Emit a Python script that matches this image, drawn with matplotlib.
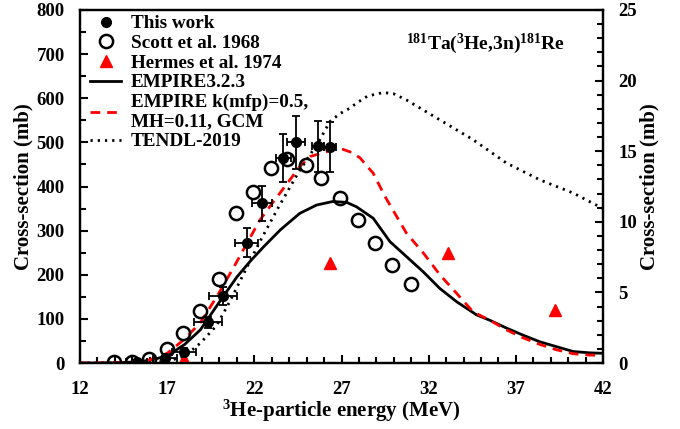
import matplotlib
matplotlib.use("Agg")
import matplotlib.pyplot as plt
from matplotlib.ticker import MultipleLocator
from matplotlib.lines import Line2D

plt.rcParams['font.family'] = ['Liberation Serif', 'DejaVu Serif']
plt.rcParams['font.weight'] = 'bold'
plt.rcParams['mathtext.fontset'] = 'custom'
plt.rcParams['mathtext.rm'] = 'Liberation Serif:bold'
plt.rcParams['mathtext.it'] = 'Liberation Serif:bold'
plt.rcParams['mathtext.bf'] = 'Liberation Serif:bold'
plt.rcParams['mathtext.default'] = 'rm'

# This work
this_E = [15.25, 16.87, 17.95, 19.33, 20.22, 21.56, 22.42, 23.66, 24.38, 25.65, 26.36]
this_y = [3, 12, 26, 92, 152, 273, 362, 464, 500, 491, 489]
this_yerr = [3, 4, 8, 12, 20, 32, 40, 54, 60, 58, 57]
this_xerr = [0.6, 0.7, 0.7, 0.8, 0.8, 0.65, 0.57, 0.43, 0.5, 0.35, 0.35]

# Scott et al. 1968
scott_E = [13.95, 14.96, 15.97, 16.97, 17.9, 18.9, 19.97, 20.94, 21.95, 22.95, 23.85,
           24.95, 25.85, 26.9, 27.96, 28.92, 29.92, 30.96]
scott_y = [2, 3, 10, 31, 67, 118, 190, 339, 387, 441, 462, 449, 420, 373, 324, 271, 222, 178]

# Hermes et al. 1974
hermes_E = [17.95, 26.35, 33.1, 39.25]
hermes_y = [8, 226, 250, 120]

# EMPIRE3.2.3
emp_E = [12, 13, 14, 15, 16, 17, 18, 18.9, 20.2, 21.0, 21.75, 22.5, 23.5, 24.6, 25.57,
         26.5, 27.3, 27.86, 28.82, 29.78, 30.73, 31.68, 32.64, 33.6, 34.75, 35.5, 36.47,
         37.42, 38.38, 39.33, 40.29, 41.24, 42]
emp_y = [0, 0, 0.5, 2, 6, 16, 42, 75, 150, 195, 230, 262, 302, 339, 358, 366, 364, 354,
         328, 275, 241, 207, 169, 139, 109, 97, 79, 63, 48, 37, 26, 23, 22]

# EMPIRE k(mfp)=0.5, MH=0.11, GCM
emk_E = [12, 13, 14, 15, 16, 17, 17.93, 18.88, 19.84, 20.79, 21.6, 22.32, 23.18, 24.04,
         24.6, 25.2, 26.15, 26.62, 27.1, 27.6, 28.06, 28.82, 29.5, 30.73, 31.7, 32.64, 33.6,
         34.55, 35.5, 36.47, 37.42, 38.38, 39.33, 40.29, 41.2, 42]
emk_y = [0, 0, 0.5, 2, 7, 22, 52, 90, 150, 215, 273, 324, 370, 415, 445, 468, 479, 485,
         484, 477, 465, 430, 377, 294, 249, 200, 158, 116, 97, 75, 57, 42, 30, 21, 18, 17]

# TENDL-2019
ten_E = [12, 14, 16, 17, 18, 18.9, 19.84, 20.6, 22.3, 23.4, 24.5, 25.76, 26.33, 26.9,
         27.5, 27.86, 28.5, 29.4, 30.0, 30.73, 32.64, 34.55, 36.47, 38.38, 40.3, 42]
ten_y = [0, 0, 1, 4, 15, 45, 85, 140, 274, 354, 430, 506, 547, 565, 578, 589, 605, 613,
         610, 596, 551, 506, 453, 415, 385, 350]

fig = plt.figure(figsize=(6.8, 4.29), dpi=100)
ax = fig.add_axes([80/680, 66/429, 523/680, 353/429])

ax.plot(emp_E, emp_y, color='black', lw=2.0, zorder=2)
ax.plot(emk_E, emk_y, color='red', lw=2.0, ls=(0, (3.5, 2.5)), zorder=2)
ax.plot(ten_E, ten_y, color='black', lw=2.0, ls=(0, (0.8, 1.8)), zorder=2)

ax.errorbar(this_E, this_y, yerr=this_yerr, xerr=this_xerr, fmt='o', color='black',
            ms=7, elinewidth=1.3, capsize=3, capthick=1.3, zorder=4)
ax.plot(scott_E, scott_y, 'o', mfc='none', mec='black', mew=1.8, ms=9.5, zorder=3)
ax.plot(hermes_E, hermes_y, '^', color='red', ms=8, zorder=3)

ax.set_xlim(12, 42)
ax.set_ylim(0, 800)
ax.set_xticks(range(12, 43, 5))
ax.xaxis.set_minor_locator(MultipleLocator(1))
ax.yaxis.set_major_locator(MultipleLocator(100))
ax.yaxis.set_minor_locator(MultipleLocator(50))
ax.tick_params(which='both', direction='in', top=False, right=False, labelsize=13.5, width=1.5)
ax.tick_params(axis='y', which='major', length=6, pad=11)
ax.tick_params(axis='x', which='major', length=6, pad=13)
ax.tick_params(which='minor', length=4)
for s in ax.spines.values():
    s.set_linewidth(1.6)

ax.set_xlabel('$^{3}$He-particle energy (MeV)', fontsize=15, fontweight='bold', labelpad=0)
ax.set_ylabel('Cross-section (mb)', fontsize=15, fontweight='bold', labelpad=2)

ax2 = ax.twinx()
ax2.set_ylim(0, 25)
ax2.yaxis.set_major_locator(MultipleLocator(5))
ax2.yaxis.set_minor_locator(MultipleLocator(1))
ax2.tick_params(which='both', direction='in', labelsize=13.5, width=1.5)
ax2.tick_params(which='major', length=6, pad=11)
ax2.tick_params(which='minor', length=4)
ax2.set_ylabel('Cross-section (mb)', fontsize=15, fontweight='bold', labelpad=2)
for s in ax2.spines.values():
    s.set_linewidth(1.6)

handles = [
    Line2D([], [], ls='none', marker='o', color='black', ms=7),
    Line2D([], [], ls='none', marker='o', mfc='none', mec='black', mew=1.8, ms=9.5),
    Line2D([], [], ls='none', marker='^', color='red', ms=8),
    Line2D([], [], color='black', lw=2.0),
    Line2D([], [], color='red', lw=2.0, ls=(0, (3.5, 2.5))),
    Line2D([], [], color='black', lw=2.0, ls=(0, (0.8, 1.8))),
]
labels = ['This work', 'Scott et al. 1968', 'Hermes et al. 1974', 'EMPIRE3.2.3',
          'EMPIRE k(mfp)=0.5,\nMH=0.11, GCM', 'TENDL-2019']
ax.legend(handles, labels, loc='upper left', frameon=False, fontsize=13.8,
          handlelength=1.6, handletextpad=0.5, labelspacing=0.12,
          borderaxespad=0.0, bbox_to_anchor=(0.005, 1.008))

ax.text(0.775, 0.905, '$^{181}$Ta($^{3}$He,3n)$^{181}$Re', transform=ax.transAxes,
        ha='center', va='center', fontsize=14, fontweight='bold')

fig.savefig('out.png', dpi=100)
